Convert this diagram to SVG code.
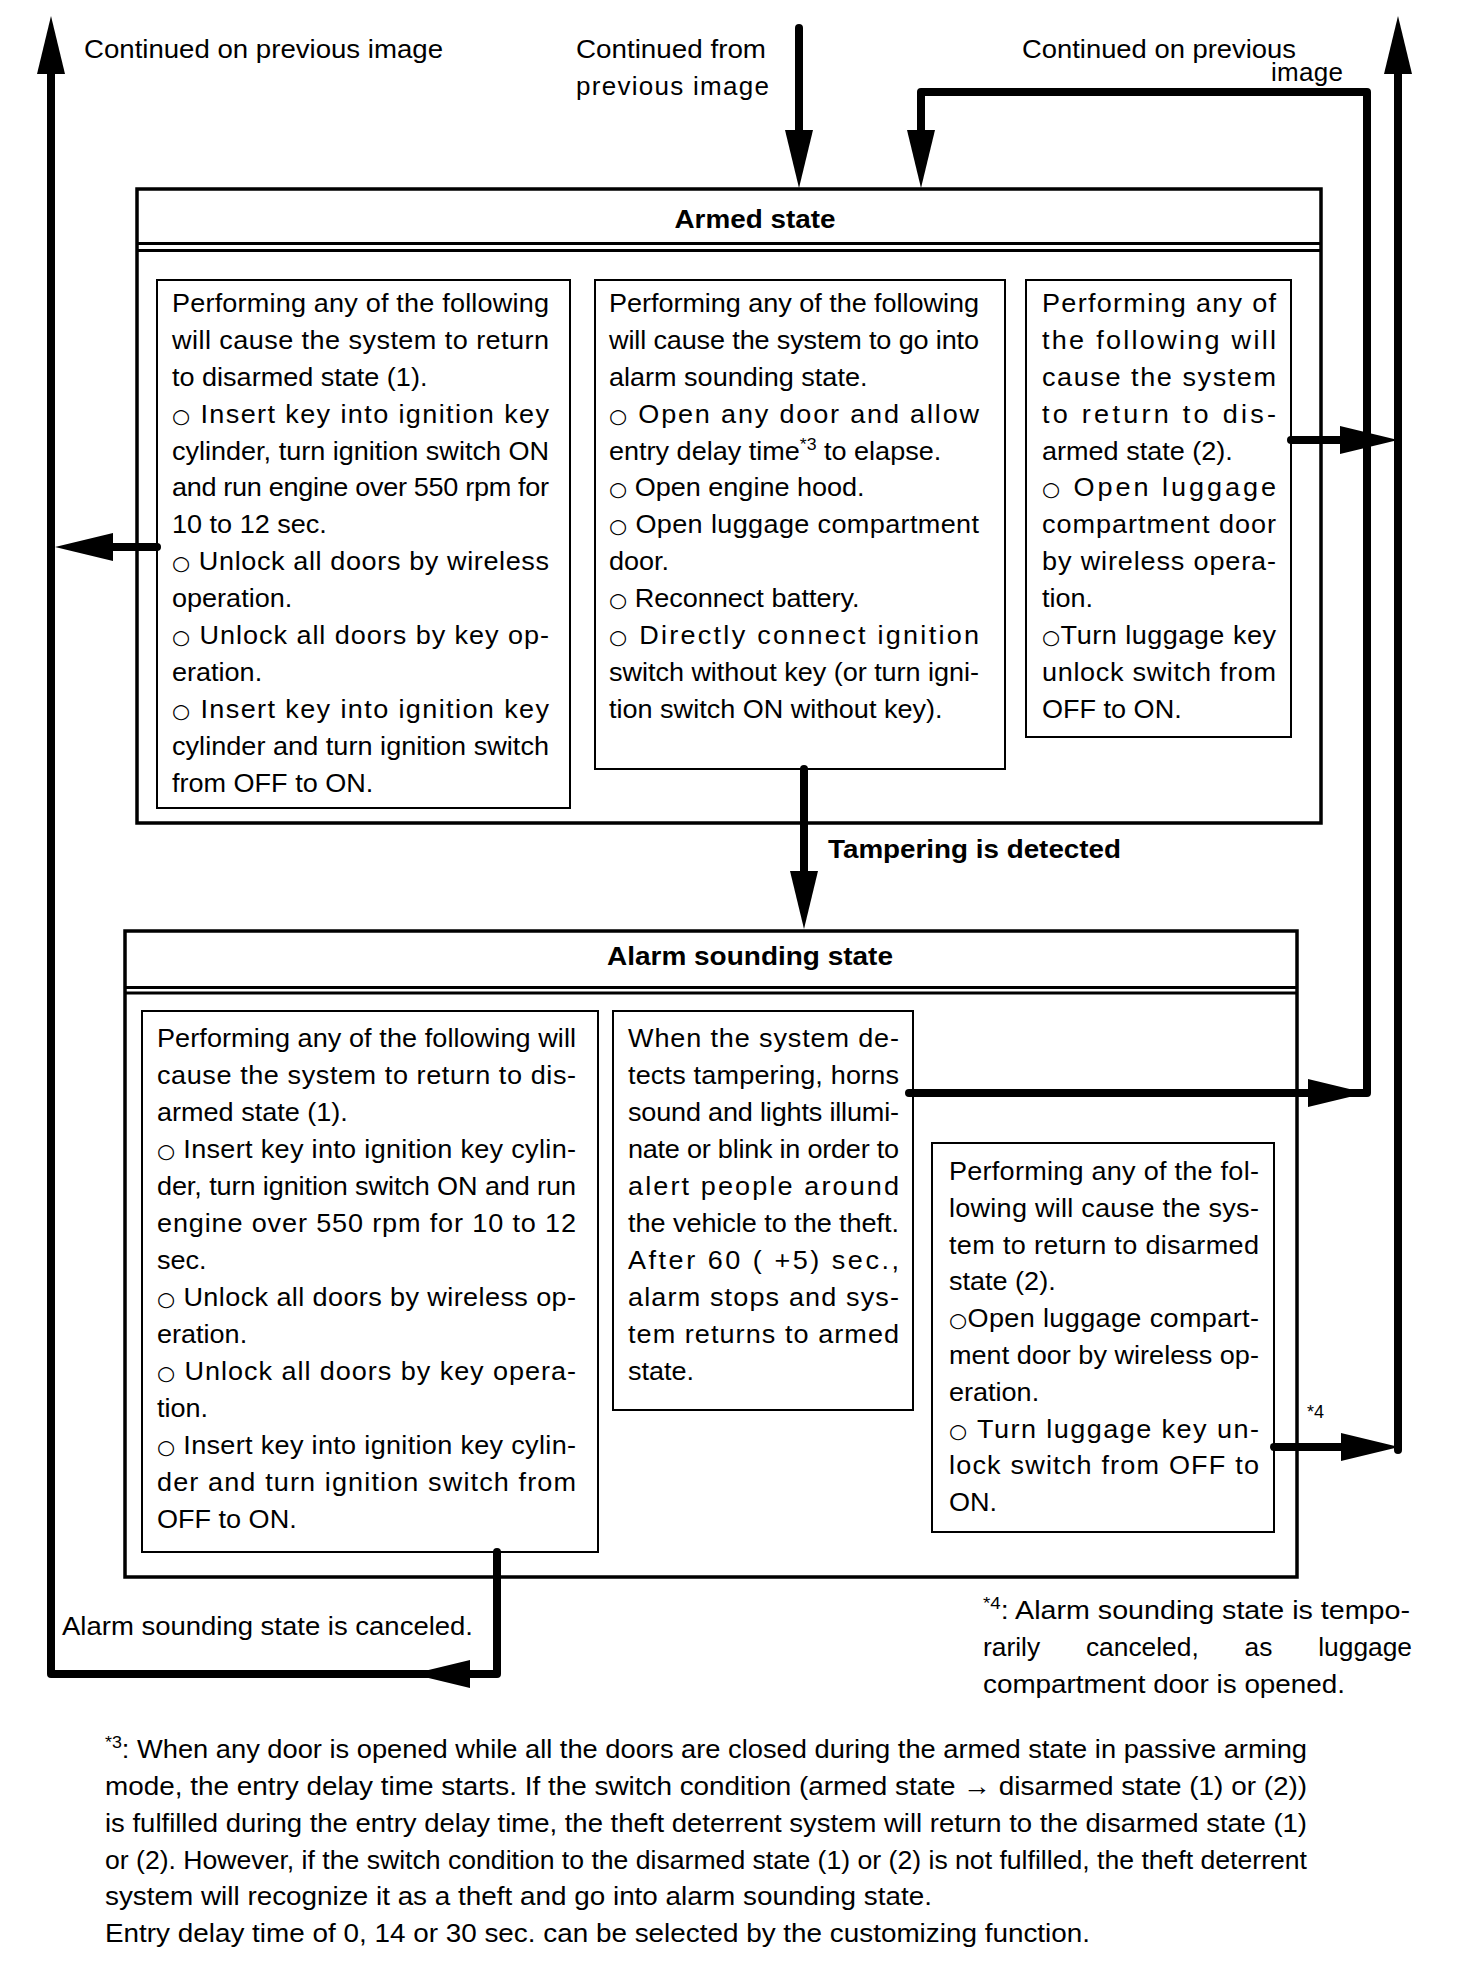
<svg xmlns="http://www.w3.org/2000/svg" width="1472" height="1986" viewBox="0 0 1472 1986">
<defs>
<style>
.t{font-family:"Liberation Sans",Arial,Helvetica,sans-serif;font-size:26px;fill:#000}
.b{font-weight:bold}
.c{font-family:"DejaVu Sans",sans-serif;font-size:20px}
.sup{font-size:17px}
.box{fill:#fff;stroke:#000;stroke-width:2}
.outer{fill:#fff;stroke:#000;stroke-width:3.5}
.dl{stroke:#000;stroke-width:3}
.conn{fill:none;stroke:#000;stroke-width:8;stroke-linejoin:round;stroke-linecap:round}
</style>
<marker id="ah" markerUnits="userSpaceOnUse" viewBox="0 0 58 28" markerWidth="58" markerHeight="28" refX="0" refY="14" orient="auto"><path d="M0,0 L58,14 L0,28 Z" fill="#000"/></marker>
</defs>
<rect width="1472" height="1986" fill="#fff"/>

<g id="labels" class="t">
<text x="84" y="58" textLength="359" lengthAdjust="spacingAndGlyphs">Continued on previous image</text>
<text x="576" y="58" textLength="190" lengthAdjust="spacingAndGlyphs">Continued from</text>
<text x="576" y="95" textLength="193">previous image</text>
<text x="1022" y="58" textLength="274" lengthAdjust="spacingAndGlyphs">Continued on previous</text>
<text x="1271" y="81" textLength="72">image</text>
<text x="828" y="858" class="b" textLength="293" lengthAdjust="spacingAndGlyphs">Tampering is detected</text>
<text x="959" y="1030" textLength="294" lengthAdjust="spacingAndGlyphs">Alarm stops and system</text>
<text x="959" y="1067" textLength="277" lengthAdjust="spacingAndGlyphs">returns to armed state.</text>
<text x="62" y="1635" textLength="411" lengthAdjust="spacingAndGlyphs">Alarm sounding state is canceled.</text>
<text x="1307" y="1418" style="font-size:18px">*4</text>
</g>

<g id="armed-state">
<rect class="outer" x="137" y="189" width="1184" height="634"/>
<line class="dl" x1="137" y1="243.5" x2="1321" y2="243.5"/>
<line class="dl" x1="137" y1="250.5" x2="1321" y2="250.5"/>
<text class="t b" x="755" y="228" text-anchor="middle" textLength="161" lengthAdjust="spacingAndGlyphs">Armed state</text>

<g id="armed-disarm1">
<rect class="box" x="157" y="280" width="413" height="528"/>
<g class="t" transform="translate(172,0) scale(1.04,1)">
<text x="0" y="312" textLength="362.5">Performing any of the following</text>
<text x="0" y="348.9" textLength="362.5">will cause the system to return</text>
<text x="0" y="385.8">to disarmed state (1).</text>
<text x="0" y="422.7" textLength="362.5"><tspan class="c">○</tspan> Insert key into ignition key</text>
<text x="0" y="459.6" textLength="362.5">cylinder, turn ignition switch ON</text>
<text x="0" y="496.5" textLength="362.5">and run engine over 550 rpm for</text>
<text x="0" y="533.4">10 to 12 sec.</text>
<text x="0" y="570.3" textLength="362.5"><tspan class="c">○</tspan> Unlock all doors by wireless</text>
<text x="0" y="607.2">operation.</text>
<text x="0" y="644.1" textLength="362.5"><tspan class="c">○</tspan> Unlock all doors by key op-</text>
<text x="0" y="681">eration.</text>
<text x="0" y="717.9" textLength="362.5"><tspan class="c">○</tspan> Insert key into ignition key</text>
<text x="0" y="754.8" textLength="362.5">cylinder and turn ignition switch</text>
<text x="0" y="791.7">from OFF to ON.</text>
</g>
</g>

<g id="armed-alarm">
<rect class="box" x="595" y="280" width="410" height="489"/>
<g class="t" transform="translate(609,0) scale(1.04,1)">
<text x="0" y="312" textLength="355.8">Performing any of the following</text>
<text x="0" y="348.9" textLength="355.8">will cause the system to go into</text>
<text x="0" y="385.8">alarm sounding state.</text>
<text x="0" y="422.7" textLength="355.8"><tspan class="c">○</tspan> Open any door and allow</text>
<text x="0" y="459.6">entry delay time<tspan class="sup" dy="-10">*3</tspan><tspan dy="10"> to elapse.</tspan></text>
<text x="0" y="496.5"><tspan class="c">○</tspan> Open engine hood.</text>
<text x="0" y="533.4" textLength="355.8"><tspan class="c">○</tspan> Open luggage compartment</text>
<text x="0" y="570.3">door.</text>
<text x="0" y="607.2"><tspan class="c">○</tspan> Reconnect battery.</text>
<text x="0" y="644.1" textLength="355.8"><tspan class="c">○</tspan> Directly connect ignition</text>
<text x="0" y="681" textLength="355.8">switch without key (or turn igni-</text>
<text x="0" y="717.9">tion switch ON without key).</text>
</g>
</g>

<g id="armed-disarm2">
<rect class="box" x="1026" y="280" width="265" height="457"/>
<g class="t" transform="translate(1042,0) scale(1.04,1)">
<text x="0" y="312" textLength="225">Performing any of</text>
<text x="0" y="348.9" textLength="225">the following will</text>
<text x="0" y="385.8" textLength="225">cause the system</text>
<text x="0" y="422.7" textLength="225">to return to dis-</text>
<text x="0" y="459.6">armed state (2).</text>
<text x="0" y="496.5" textLength="225"><tspan class="c">○</tspan> Open luggage</text>
<text x="0" y="533.4" textLength="225">compartment door</text>
<text x="0" y="570.3" textLength="225">by wireless opera-</text>
<text x="0" y="607.2">tion.</text>
<text x="0" y="644.1" textLength="225"><tspan class="c">○</tspan>Turn luggage key</text>
<text x="0" y="681" textLength="225">unlock switch from</text>
<text x="0" y="717.9">OFF to ON.</text>
</g>
</g>
</g>

<g id="alarm-state">
<rect class="outer" x="125" y="931" width="1172" height="646"/>
<line class="dl" x1="125" y1="987.5" x2="1297" y2="987.5"/>
<line class="dl" x1="125" y1="993" x2="1297" y2="993"/>
<text class="t b" x="750" y="965" text-anchor="middle" textLength="286" lengthAdjust="spacingAndGlyphs">Alarm sounding state</text>

<g id="alarm-disarm1">
<rect class="box" x="142" y="1011" width="456" height="541"/>
<g class="t" transform="translate(157,0) scale(1.04,1)">
<text x="0" y="1047" textLength="402.9">Performing any of the following will</text>
<text x="0" y="1084" textLength="402.9">cause the system to return to dis-</text>
<text x="0" y="1121">armed state (1).</text>
<text x="0" y="1158" textLength="402.9"><tspan class="c">○</tspan> Insert key into ignition key cylin-</text>
<text x="0" y="1195" textLength="402.9">der, turn ignition switch ON and run</text>
<text x="0" y="1232" textLength="402.9">engine over 550 rpm for 10 to 12</text>
<text x="0" y="1269">sec.</text>
<text x="0" y="1306" textLength="402.9"><tspan class="c">○</tspan> Unlock all doors by wireless op-</text>
<text x="0" y="1343">eration.</text>
<text x="0" y="1380" textLength="402.9"><tspan class="c">○</tspan> Unlock all doors by key opera-</text>
<text x="0" y="1417">tion.</text>
<text x="0" y="1454" textLength="402.9"><tspan class="c">○</tspan> Insert key into ignition key cylin-</text>
<text x="0" y="1491" textLength="402.9">der and turn ignition switch from</text>
<text x="0" y="1528">OFF to ON.</text>
</g>
</g>

<g id="alarm-detect">
<rect class="box" x="613" y="1011" width="300" height="399"/>
<g class="t" transform="translate(628,0) scale(1.04,1)">
<text x="0" y="1047" textLength="260.6">When the system de-</text>
<text x="0" y="1084" textLength="260.6">tects tampering, horns</text>
<text x="0" y="1121" textLength="260.6">sound and lights illumi-</text>
<text x="0" y="1158" textLength="260.6">nate or blink in order to</text>
<text x="0" y="1195" textLength="260.6">alert people around</text>
<text x="0" y="1232" textLength="260.6">the vehicle to the theft.</text>
<text x="0" y="1269" textLength="260.6">After 60 ( +5) sec.,</text>
<text x="0" y="1306" textLength="260.6">alarm stops and sys-</text>
<text x="0" y="1343" textLength="260.6">tem returns to armed</text>
<text x="0" y="1380">state.</text>
</g>
</g>

<g id="alarm-disarm2">
<rect class="box" x="932" y="1143" width="342" height="389"/>
<g class="t" transform="translate(949,0) scale(1.04,1)">
<text x="0" y="1180" textLength="298">Performing any of the fol-</text>
<text x="0" y="1216.8" textLength="298">lowing will cause the sys-</text>
<text x="0" y="1253.6" textLength="298">tem to return to disarmed</text>
<text x="0" y="1290.4">state (2).</text>
<text x="0" y="1327.2" textLength="298"><tspan class="c">○</tspan>Open luggage compart-</text>
<text x="0" y="1364" textLength="298">ment door by wireless op-</text>
<text x="0" y="1400.8">eration.</text>
<text x="0" y="1437.6" textLength="298"><tspan class="c">○</tspan> Turn luggage key un-</text>
<text x="0" y="1474.4" textLength="298">lock switch from OFF to</text>
<text x="0" y="1511.2">ON.</text>
</g>
</g>
</g>

<g id="connectors">
<path class="conn" d="M497,1552 V1674 H51 V74" marker-end="url(#ah)"/>
<path class="conn" d="M480,1674 H470" marker-end="url(#ah)"/>
<path class="conn" d="M157,547 H113" marker-end="url(#ah)"/>
<path class="conn" d="M799,28 V130" marker-end="url(#ah)"/>
<path class="conn" d="M909,1093 H1367 V92 H921 V130" marker-end="url(#ah)"/>
<path class="conn" d="M1300,1093 H1308" marker-end="url(#ah)"/>
<path class="conn" d="M1291,440 H1340" marker-end="url(#ah)"/>
<path class="conn" d="M804,769 V871" marker-end="url(#ah)"/>
<path class="conn" d="M1398,1450 V74" marker-end="url(#ah)"/>
<path class="conn" d="M1274,1447 H1341" marker-end="url(#ah)"/>
</g>

<g id="footnote-4" class="t">
<text x="983" y="1619" textLength="427" lengthAdjust="spacingAndGlyphs"><tspan class="sup" dy="-10">*4</tspan><tspan dy="10">: Alarm sounding state is tempo-</tspan></text>
<text x="983" y="1656" style="word-spacing:38px" textLength="429" lengthAdjust="spacingAndGlyphs">rarily canceled, as luggage</text>
<text x="983" y="1693" textLength="362" lengthAdjust="spacingAndGlyphs">compartment door is opened.</text>
</g>

<g id="footnote-3" class="t">
<text x="105" y="1758" textLength="1202" lengthAdjust="spacingAndGlyphs"><tspan class="sup" dy="-10">*3</tspan><tspan dy="10">: When any door is opened while all the doors are closed during the armed state in passive arming</tspan></text>
<text x="105" y="1795" textLength="1202" lengthAdjust="spacingAndGlyphs">mode, the entry delay time starts. If the switch condition (armed state → disarmed state (1) or (2))</text>
<text x="105" y="1832" textLength="1202" lengthAdjust="spacingAndGlyphs">is fulfilled during the entry delay time, the theft deterrent system will return to the disarmed state (1)</text>
<text x="105" y="1869" textLength="1202" lengthAdjust="spacingAndGlyphs">or (2). However, if the switch condition to the disarmed state (1) or (2) is not fulfilled, the theft deterrent</text>
<text x="105" y="1905" textLength="827" lengthAdjust="spacingAndGlyphs">system will recognize it as a theft and go into alarm sounding state.</text>
<text x="105" y="1942" textLength="985" lengthAdjust="spacingAndGlyphs">Entry delay time of 0, 14 or 30 sec. can be selected by the customizing function.</text>
</g>
</svg>
